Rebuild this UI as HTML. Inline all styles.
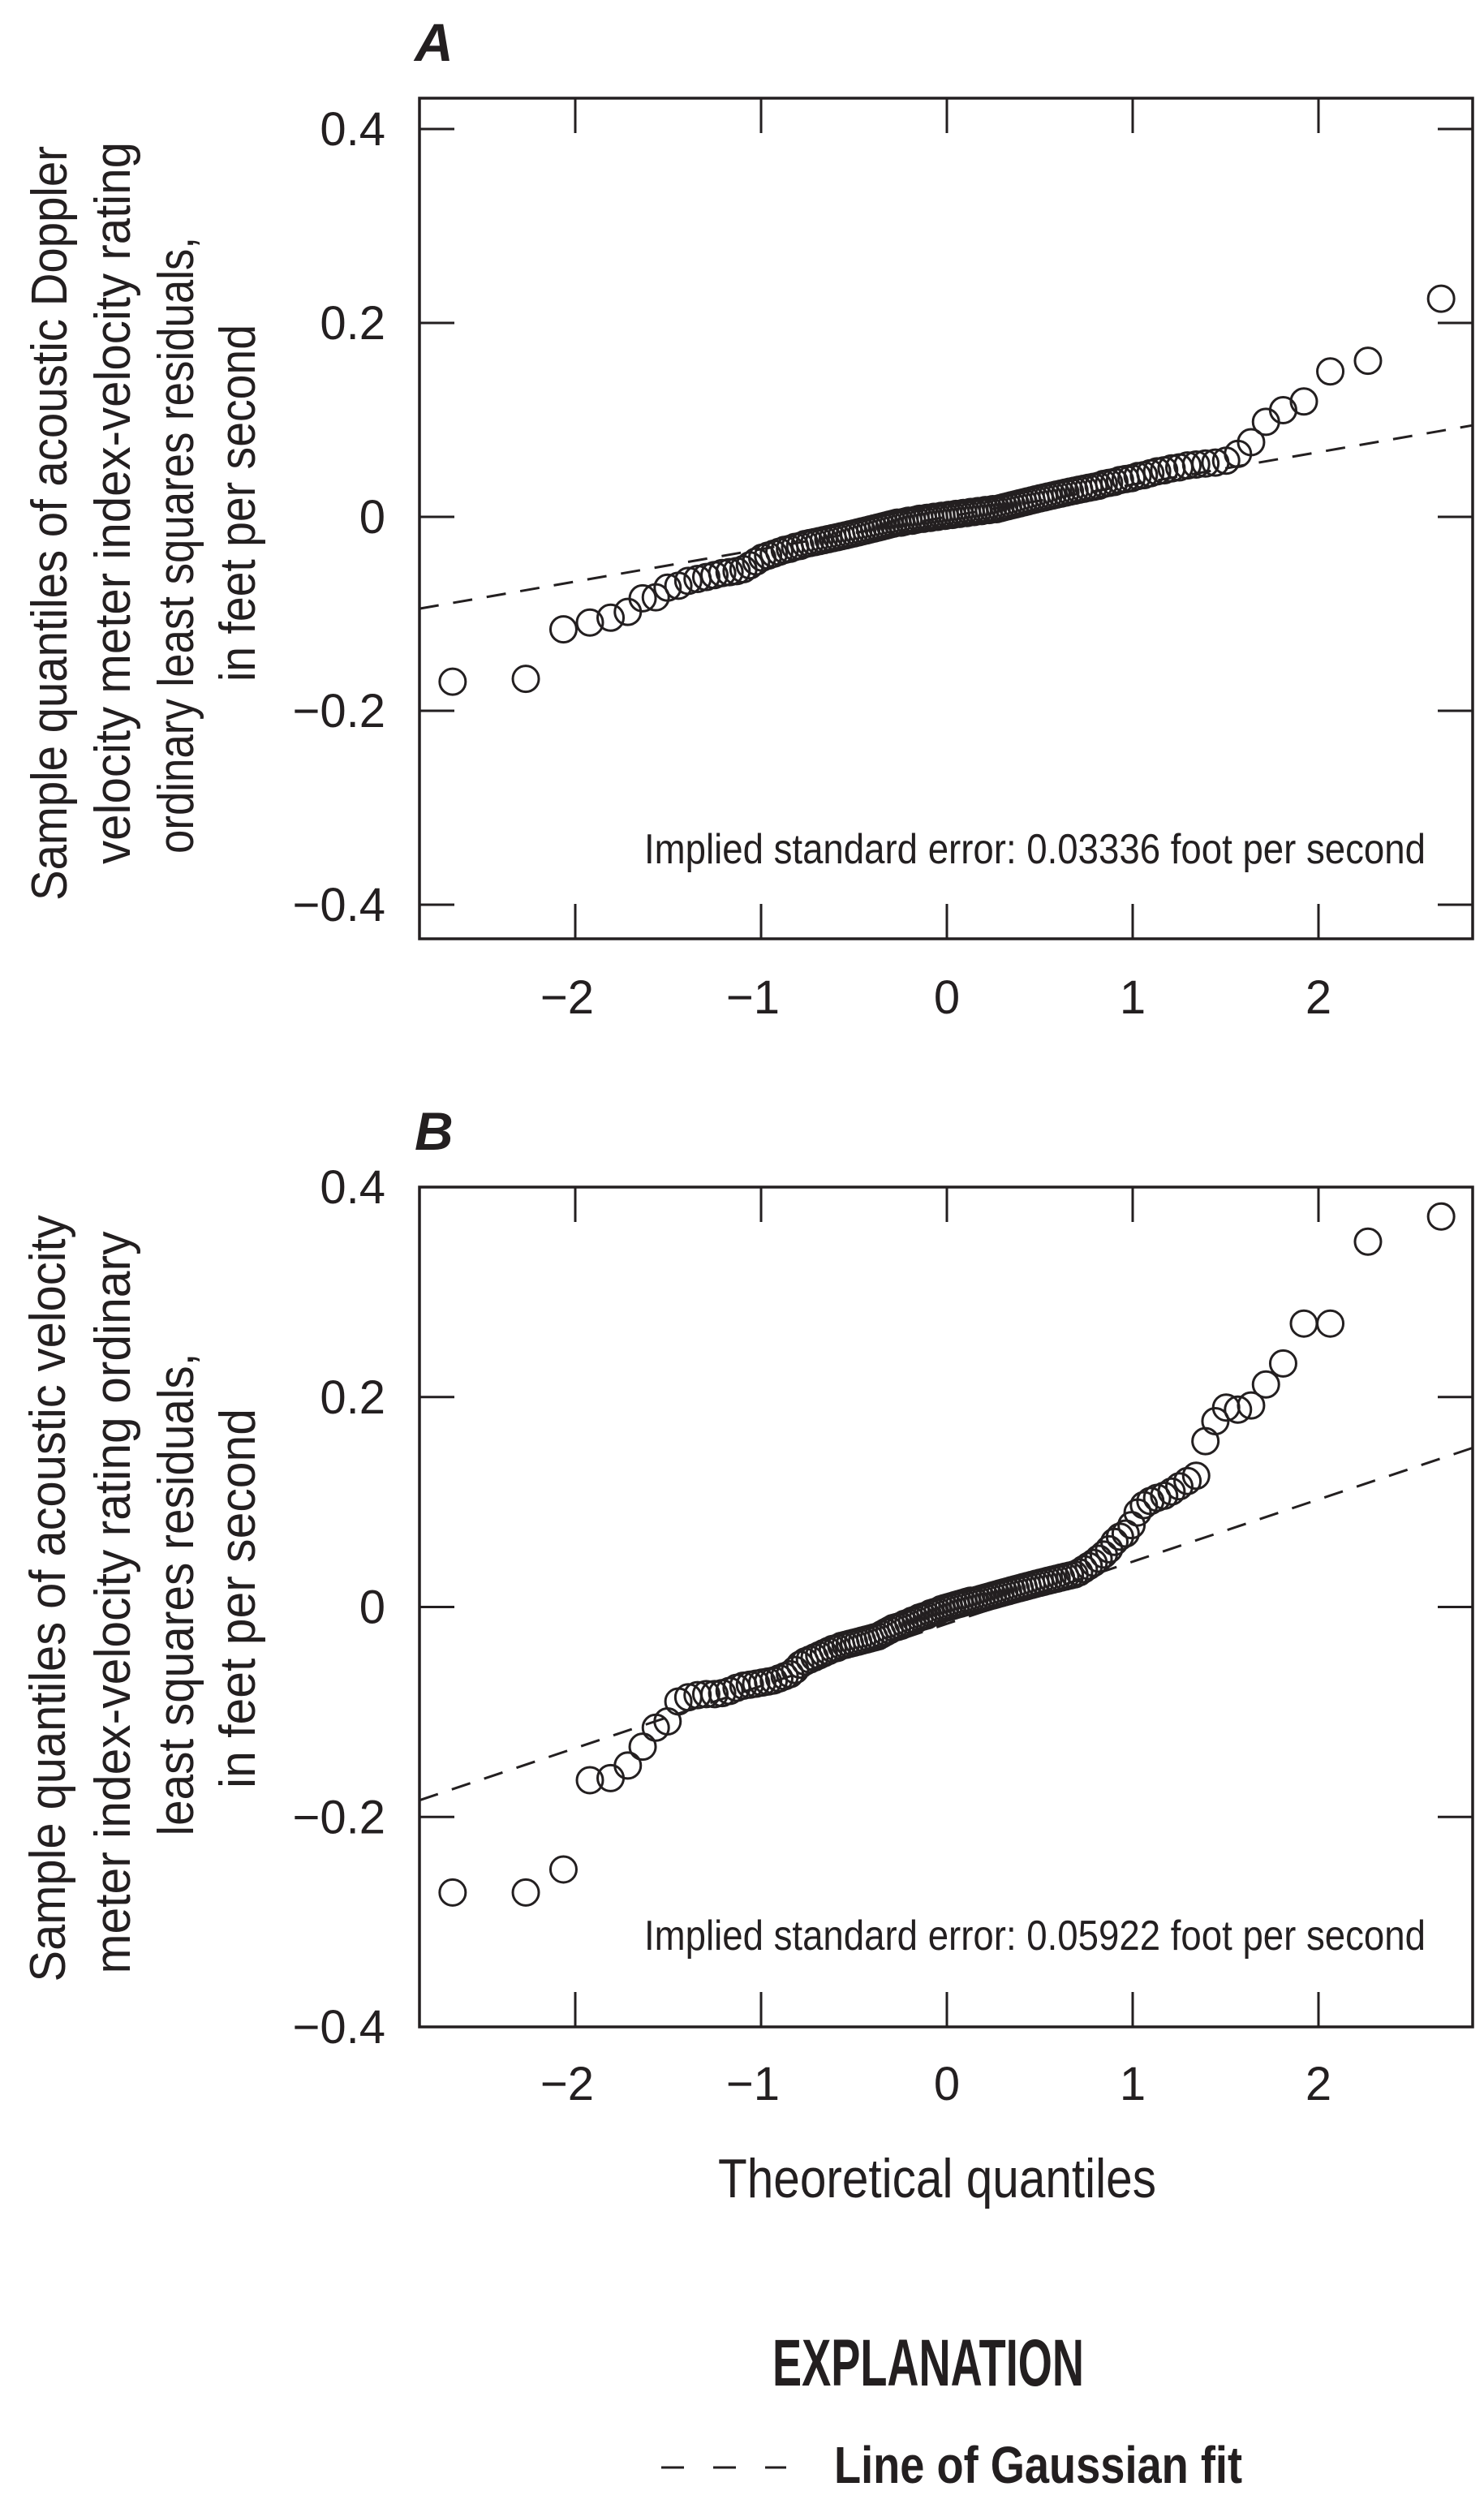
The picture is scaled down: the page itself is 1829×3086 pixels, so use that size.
<!DOCTYPE html>
<html><head><meta charset="utf-8"><style>
html,body{margin:0;padding:0;background:#fff;}
svg{display:block;}
text{font-family:"Liberation Sans Narrow","Liberation Sans",sans-serif;fill:#231f20;}
</style></head><body>
<svg id="fig" width="1829" height="3086" viewBox="0 0 1829 3086" xmlns="http://www.w3.org/2000/svg">
<g font-size="62">
<text transform="translate(82,645) rotate(-90)" text-anchor="middle" textLength="930" lengthAdjust="spacingAndGlyphs">Sample quantiles of acoustic Doppler</text>
<text transform="translate(160,620) rotate(-90)" text-anchor="middle" textLength="890" lengthAdjust="spacingAndGlyphs">velocity meter index-velocity rating</text>
<text transform="translate(238,672) rotate(-90)" text-anchor="middle" textLength="760" lengthAdjust="spacingAndGlyphs">ordinary least squares residuals,</text>
<text transform="translate(314,620) rotate(-90)" text-anchor="middle" textLength="440" lengthAdjust="spacingAndGlyphs">in feet per second</text>
</g>
<g font-size="62">
<text transform="translate(80,1970) rotate(-90)" text-anchor="middle" textLength="945" lengthAdjust="spacingAndGlyphs">Sample quantiles of acoustic velocity</text>
<text transform="translate(160,1975) rotate(-90)" text-anchor="middle" textLength="915" lengthAdjust="spacingAndGlyphs">meter index-velocity rating ordinary</text>
<text transform="translate(238,1965) rotate(-90)" text-anchor="middle" textLength="595" lengthAdjust="spacingAndGlyphs">least squares residuals,</text>
<text transform="translate(314,1970) rotate(-90)" text-anchor="middle" textLength="468" lengthAdjust="spacingAndGlyphs">in feet per second</text>
</g>
<text x="885" y="2708" font-size="68" textLength="540" lengthAdjust="spacingAndGlyphs">Theoretical quantiles</text>
<text x="952" y="2940" font-size="82" font-weight="bold" textLength="384" lengthAdjust="spacingAndGlyphs">EXPLANATION</text>
<line x1="815" y1="3041" x2="969" y2="3041" stroke="#231f20" stroke-width="3" stroke-dasharray="28,36"/>
<text x="1028" y="3060" font-size="64" font-weight="bold" textLength="503" lengthAdjust="spacingAndGlyphs">Line of Gaussian fit</text>
</svg>
<script>
// ---- data ----
const xTicks = [-2, -1, 0, 1, 2];
const xTickLabels = ["\u22122", "\u22121", "0", "1", "2"];
const yTicks = [0.4, 0.2, 0, -0.2, -0.4];
const yTickLabels = ["0.4", "0.2", "0", "\u22120.2", "\u22120.4"];
const residualsA = [-0.170,-0.167,-0.116,-0.109,-0.104,-0.098,-0.084,-0.083,-0.073,-0.071,
-0.066,-0.064,-0.062,-0.060,-0.058,-0.057,-0.056,-0.054,-0.050,-0.046,-0.042,-0.040,-0.038,-0.036,-0.034,-0.033,-0.031,-0.030,-0.028,-0.027,
-0.026,-0.025,-0.024,-0.023,-0.022,-0.021,-0.020,-0.019,-0.018,-0.017,
-0.016,-0.015,-0.014,-0.013,-0.012,-0.011,-0.010,-0.009,-0.008,-0.007,
-0.006,-0.006,-0.005,-0.004,-0.004,-0.003,-0.002,-0.002,-0.001,-0.001,0.000,0.000,0.001,0.001,
0.002,0.002,0.003,0.003,0.004,0.004,0.005,0.005,0.006,0.006,0.007,0.007,0.008,0.008,0.009,0.010,
0.011,0.012,0.013,0.014,0.015,0.016,0.017,0.018,0.019,0.020,0.021,0.022,0.023,0.024,0.025,0.026,0.027,0.028,0.029,0.030,
0.031,0.032,0.034,0.035,0.036,0.038,0.039,0.040,0.042,0.043,0.045,0.047,0.048,0.050,0.051,0.053,0.054,0.055,0.056,
0.058,0.065,0.077,0.098,0.110,0.119,0.150,0.161,0.225];
const residualsB = [-0.272,-0.272,-0.250,-0.165,-0.163,-0.151,-0.133,-0.115,-0.109,-0.090,
-0.086,-0.084,-0.083,-0.083,-0.082,-0.080,-0.077,-0.075,-0.074,-0.073,-0.072,-0.071,-0.070,-0.068,-0.066,
-0.064,-0.060,-0.055,-0.052,-0.050,
-0.048,-0.046,-0.044,-0.042,-0.040,-0.039,-0.037,-0.036,-0.035,-0.034,
-0.033,-0.032,-0.031,-0.030,-0.029,-0.028,-0.026,-0.024,-0.022,-0.020,
-0.019,-0.018,-0.016,-0.015,-0.013,-0.012,-0.010,-0.009,-0.008,-0.006,-0.005,-0.004,-0.002,-0.001,
0.000,0.001,0.002,0.003,0.004,0.005,0.006,0.006,0.007,0.008,0.009,0.010,0.011,0.012,0.013,0.014,
0.015,0.016,0.017,0.018,0.019,0.020,0.021,0.022,0.023,0.024,0.025,0.026,0.027,0.028,0.029,0.030,0.031,0.033,0.036,0.039,
0.042,0.046,0.050,0.055,0.062,0.067,0.070,0.078,0.090,0.097,
0.101,0.104,0.106,0.110,0.115,0.120,0.125,0.158,0.177,0.190,
0.188,0.192,0.212,0.232,0.270,0.270,0.348,0.372];
const fitA = [0.03336, 0.000];   // slope (std error), intercept
const fitB = [0.05922, -0.016];
const labelA = "Implied standard error: 0.03336 foot per second";
const labelB = "Implied standard error: 0.05922 foot per second";

// inverse normal CDF (Acklam)
function qnorm(p){
  const a=[-3.969683028665376e+01,2.209460984245205e+02,-2.759285104469687e+02,1.383577518672690e+02,-3.066479806614716e+01,2.506628277459239e+00];
  const b=[-5.447609879822406e+01,1.615858368580409e+02,-1.556989798598866e+02,6.680131188771972e+01,-1.328068155288572e+01];
  const c=[-7.784894002430293e-03,-3.223964580411365e-01,-2.400758277161838e+00,-2.549732539343734e+00,4.374664141464968e+00,2.938163982698783e+00];
  const d=[7.784695709041462e-03,3.224671290700398e-01,2.445134137142996e+00,3.754408661907416e+00];
  const pl=0.02425;let q,r;
  if(p<pl){q=Math.sqrt(-2*Math.log(p));return (((((c[0]*q+c[1])*q+c[2])*q+c[3])*q+c[4])*q+c[5])/((((d[0]*q+d[1])*q+d[2])*q+d[3])*q+1);}
  if(p>1-pl){q=Math.sqrt(-2*Math.log(1-p));return -(((((c[0]*q+c[1])*q+c[2])*q+c[3])*q+c[4])*q+c[5])/((((d[0]*q+d[1])*q+d[2])*q+d[3])*q+1);}
  q=p-0.5;r=q*q;return (((((a[0]*r+a[1])*r+a[2])*r+a[3])*r+a[4])*r+a[5])*q/(((((b[0]*r+b[1])*r+b[2])*r+b[3])*r+b[4])*r+1);
}
const NS="http://www.w3.org/2000/svg";
const svg=document.getElementById('fig');
function mk(tag,attrs,parent){const e=document.createElementNS(NS,tag);for(const k in attrs)e.setAttribute(k,attrs[k]);(parent||svg).appendChild(e);return e;}

function panel(key, letter, top, bottom, yTopVal, yBotVal, vals, fit, label, labelX, labelY, tickLabelY, letterY){
  const left=517,right=1815;
  const xs=q=>1167+q*229;
  const ys=v=>top+(yTopVal-v)/(yTopVal-yBotVal)*(bottom-top);
  const g=mk('g',{});
  
  
  const L=mk('text',{x:left-6,y:letterY,'font-size':66,'font-weight':'bold','font-style':'italic'},g);
  L.textContent=letter;
  
  
  const fr=mk('rect',{x:left,y:top,width:right-left,height:bottom-top,fill:'none',stroke:'#231f20','stroke-width':3.5},g);
  
  
  xTicks.forEach((t,i)=>{
    const x=xs(t);
    mk('line',{x1:x,y1:bottom,x2:x,y2:bottom-43,stroke:'#231f20','stroke-width':3},g);
    mk('line',{x1:x,y1:top,x2:x,y2:top+43,stroke:'#231f20','stroke-width':3},g);
    const tl=mk('text',{x:x-(t<0?10:0),y:tickLabelY,'font-size':58,'text-anchor':'middle'},g);
    tl.textContent=xTickLabels[i];
    
    
  });
  yTicks.forEach((t,i)=>{
    const y=ys(t);
    mk('line',{x1:left,y1:y,x2:left+43,y2:y,stroke:'#231f20','stroke-width':3},g);
    mk('line',{x1:right,y1:y,x2:right-43,y2:y,stroke:'#231f20','stroke-width':3},g);
    const tl=mk('text',{x:475,y:y+20,'font-size':58,'text-anchor':'end'},g);
    tl.textContent=yTickLabels[i];
    
    
  });
  const q0=(left-1167)/229,q1=(right-1167)/229;
  const ln=mk('line',{x1:left,y1:ys(fit[0]*q0+fit[1]),x2:right,y2:ys(fit[0]*q1+fit[1]),stroke:'#231f20','stroke-width':3,'stroke-dasharray':'24,18'},g);
  
  
  const n=vals.length;
  vals.forEach((v,i)=>{
    const q=qnorm((i+0.5)/n);
    const c=mk('circle',{cx:xs(q),cy:ys(v),r:16,fill:'none',stroke:'#231f20','stroke-width':3},g);
    
    
  });
  const t=mk('text',{x:labelX,y:labelY,'font-size':52,textLength:963,lengthAdjust:'spacingAndGlyphs'},g);
  t.textContent=label;
  
  
}
panel('a','A',121,1157,0.4+38/119.5*0.1,-0.4-42/119.5*0.1,residualsA,fitA,labelA,794,1064,1249,75);
panel('b','B',1463,2498,0.4,-0.4,residualsB,fitB,labelB,794,2403,2588,1417);
</script>
</body></html>
